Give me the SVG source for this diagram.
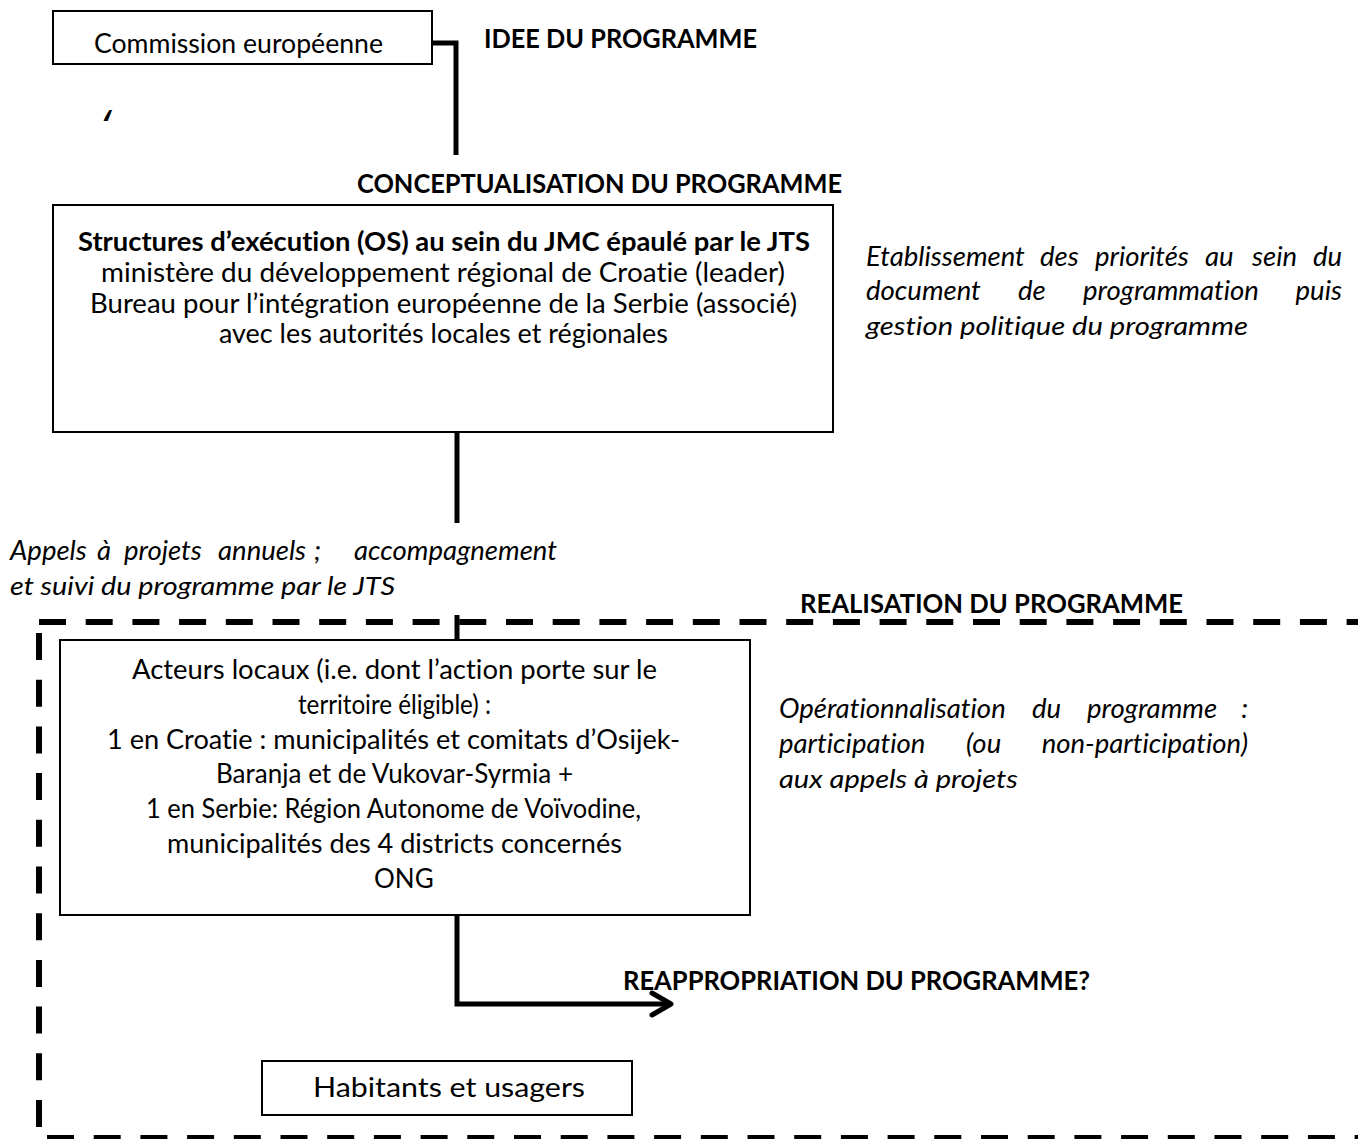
<svg xmlns="http://www.w3.org/2000/svg" width="1358" height="1139" viewBox="0 0 1358 1139">
<style>
.box{fill:#fff;stroke:#000;stroke-width:2}
.t{font-family:Lato,"Open Sans","Liberation Sans",sans-serif;font-size:26px;fill:#000;font-variant-ligatures:none}
.b{font-weight:bold}
.i{font-style:italic}
.w{font-size:27.5px}
.e{text-anchor:end}
.q{font-family:"Open Sans","Liberation Sans",sans-serif;font-size:44px;font-style:italic}
.ln{fill:none;stroke:#000;stroke-width:5}
.dash{fill:none;stroke:#000;stroke-width:6;stroke-dasharray:27 19.7}
</style>
<rect width="1358" height="1139" fill="#fff"/>
<g id="connectors">
<polyline class="ln" points="432,43 456,43 456,155"/>
<line class="ln" x1="457" y1="432" x2="457" y2="523"/>
<line class="ln" x1="457" y1="615" x2="457" y2="641"/>
<polyline class="ln" points="457,915 457,1004 670,1004"/>
<polyline class="ln" points="652,993 671,1004 652,1015" stroke-linecap="round" stroke-linejoin="round"/>
</g>
<g id="frame">
<line class="dash" x1="39" y1="622" x2="1358" y2="622"/>
<line class="dash" x1="39" y1="633" x2="39" y2="1136"/>
<line class="dash" x1="47" y1="1138" x2="1358" y2="1138"/>
</g>
<g id="commission">
<rect class="box" x="53" y="11" width="379" height="53"/>
<text class="t" x="94" y="53" textLength="289" lengthAdjust="spacingAndGlyphs">Commission européenne</text>
</g>
<g id="labels">
<text class="t b" x="484" y="48" textLength="273" lengthAdjust="spacingAndGlyphs">IDEE DU PROGRAMME</text>
<text class="q" x="101" y="141">‘</text>
<text class="t b" x="357" y="193" textLength="485" lengthAdjust="spacingAndGlyphs">CONCEPTUALISATION DU PROGRAMME</text>
<text class="t i w" x="866" y="266">Etablissement</text>
<text class="t i w" x="1040" y="266">des</text>
<text class="t i w" x="1095" y="266">priorités</text>
<text class="t i w" x="1205" y="266">au</text>
<text class="t i w" x="1252" y="266">sein</text>
<text class="t i w e" x="1342" y="266">du</text>
<text class="t i w" x="866" y="300">document</text>
<text class="t i w" x="1018" y="300">de</text>
<text class="t i w" x="1083" y="300">programmation</text>
<text class="t i w e" x="1342" y="300">puis</text>
<text class="t i" x="866" y="335" textLength="382" lengthAdjust="spacingAndGlyphs">gestion politique du programme</text>
<text class="t i w" x="10" y="560">Appels</text>
<text class="t i w" x="97" y="560">à</text>
<text class="t i w" x="124" y="560">projets</text>
<text class="t i w" x="218" y="560">annuels</text>
<text class="t i w" x="314" y="560">;</text>
<text class="t i w e" x="557" y="560">accompagnement</text>
<text class="t i" x="10" y="595" textLength="385" lengthAdjust="spacingAndGlyphs">et suivi du programme par le JTS</text>
<text class="t b" x="800" y="613" textLength="383" lengthAdjust="spacingAndGlyphs">REALISATION DU PROGRAMME</text>
<text class="t i w" x="779" y="718">Opérationnalisation</text>
<text class="t i w" x="1032" y="718">du</text>
<text class="t i w" x="1087" y="718">programme</text>
<text class="t i w e" x="1248" y="718">:</text>
<text class="t i w" x="779" y="753">participation</text>
<text class="t i w" x="966" y="753">(ou</text>
<text class="t i w e" x="1248" y="753">non-participation)</text>
<text class="t i" x="779" y="788" textLength="239" lengthAdjust="spacingAndGlyphs">aux appels à projets</text>
<text class="t b" x="623" y="990" textLength="467" lengthAdjust="spacingAndGlyphs">REAPPROPRIATION DU PROGRAMME?</text>
</g>
<g id="structures">
<rect class="box" x="53" y="205" width="780" height="227"/>
<text class="t b" x="78" y="251" textLength="732" lengthAdjust="spacingAndGlyphs">Structures d’exécution (OS) au sein du JMC épaulé par le JTS</text>
<text class="t" x="101" y="282" textLength="684" lengthAdjust="spacingAndGlyphs">ministère du développement régional de Croatie (leader)</text>
<text class="t" x="90" y="313" textLength="707" lengthAdjust="spacingAndGlyphs">Bureau pour l’intégration européenne de la Serbie (associé)</text>
<text class="t" x="219" y="343" textLength="449" lengthAdjust="spacingAndGlyphs">avec les autorités locales et régionales</text>
</g>
<g id="acteurs">
<rect class="box" x="60" y="640" width="690" height="275"/>
<text class="t" x="132" y="679" textLength="525" lengthAdjust="spacingAndGlyphs">Acteurs locaux (i.e. dont l’action porte sur le</text>
<text class="t" x="298" y="714" textLength="193" lengthAdjust="spacingAndGlyphs">territoire éligible) :</text>
<text class="t" x="107" y="749" textLength="573" lengthAdjust="spacingAndGlyphs">1 en Croatie : municipalités et comitats d’Osijek-</text>
<text class="t" x="216" y="783" textLength="357" lengthAdjust="spacingAndGlyphs">Baranja et de Vukovar-Syrmia +</text>
<text class="t" x="146" y="818" textLength="495" lengthAdjust="spacingAndGlyphs">1 en Serbie: Région Autonome de Voïvodine,</text>
<text class="t" x="167" y="853" textLength="455" lengthAdjust="spacingAndGlyphs">municipalités des 4 districts concernés</text>
<text class="t" x="374" y="888">ONG</text>
</g>
<g id="habitants">
<rect class="box" x="262" y="1061" width="370" height="54"/>
<text class="t" x="313" y="1097" textLength="272" lengthAdjust="spacingAndGlyphs">Habitants et usagers</text>
</g>
</svg>
